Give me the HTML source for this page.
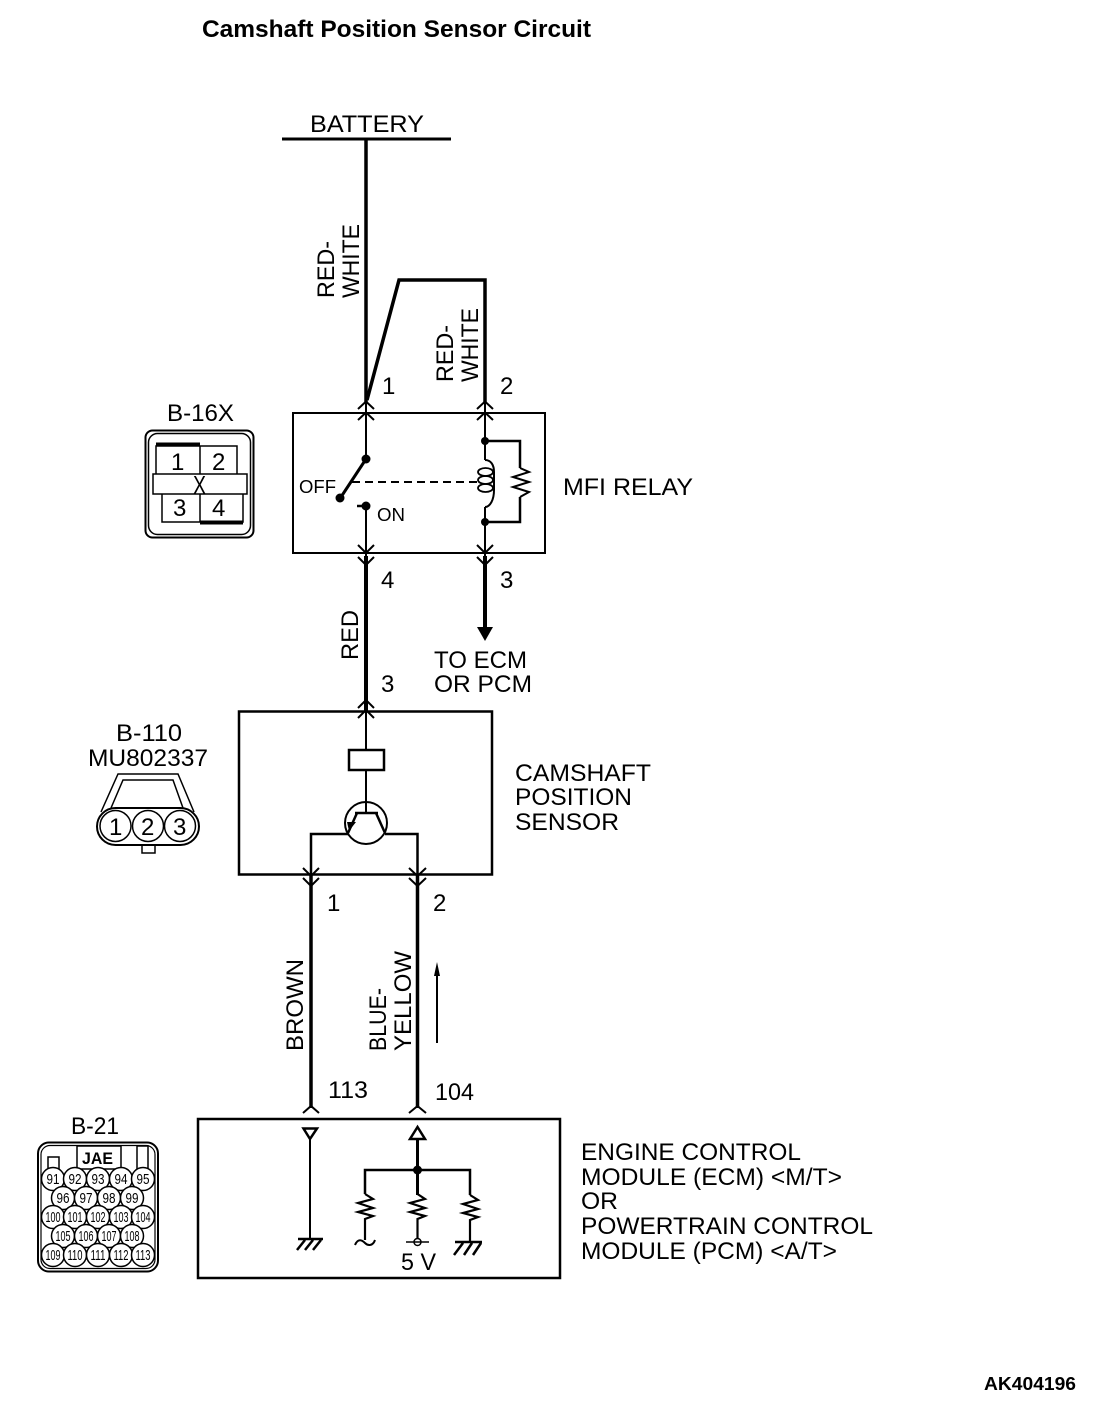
<!DOCTYPE html>
<html>
<head>
<meta charset="utf-8">
<title>Camshaft Position Sensor Circuit</title>
<style>
html,body{margin:0;padding:0;background:#fff;}
svg{display:block;}
text{font-family:"Liberation Sans",sans-serif;fill:#000;stroke:none;}
.l{font-size:24px;}
.n{font-size:24px;}
.c{font-size:15px;text-anchor:middle;}
</style>
</head>
<body>
<svg xmlns="http://www.w3.org/2000/svg" width="1120" height="1408" viewBox="0 0 1120 1408">
<rect width="1120" height="1408" fill="#fff"/>

<!-- Titles -->
<text x="202" y="37" font-size="24" font-weight="bold" textLength="389" lengthAdjust="spacingAndGlyphs">Camshaft Position Sensor Circuit</text>
<text x="984" y="1390" font-size="18" font-weight="bold" textLength="92" lengthAdjust="spacingAndGlyphs">AK404196</text>

<!-- Battery and upper wires -->
<text class="l" x="310" y="132" textLength="114" lengthAdjust="spacingAndGlyphs">BATTERY</text>
<g fill="none" stroke="#000" stroke-linecap="butt">
<path d="M282 139H451" stroke-width="3"/>
<path d="M366 139V404" stroke-width="3.500"/>
<path d="M367 400L399 280H485V404" stroke-width="3.500" stroke-linejoin="miter"/>
<path d="M366 556V711" stroke-width="4"/>
<path d="M485 556V630" stroke-width="4"/>
<path d="M311 874V1108M417.500 874V1108" stroke-width="3.500"/>
</g>
<path d="M477 627H493L485 641Z" fill="#000"/>

<!-- Relay box -->
<rect x="293" y="413" width="252" height="140" fill="none" stroke="#000" stroke-width="2"/>
<g fill="none" stroke="#000" stroke-width="2">
<path d="M366 404V459M366 506V556M485 404V460M485 507V556"/>
<path d="M358 409L366 401.500L374 409M358 420L366 412.500L374 420"/>
<path d="M477 409L485 401.500L493 409M477 420L485 412.500L493 420"/>
<path d="M358 545L366 553L374 545M358 557L366 565L374 557"/>
<path d="M477 545L485 553L493 545M477 557L485 565L493 557"/>
<path d="M366 459L341 497" stroke-width="3"/>
<path d="M357 506H366" stroke-width="2.500"/>
<path d="M352 482H477" stroke-dasharray="8 5"/>
<path d="M485 441H520V468M485 522H520V497" stroke-width="2.500"/>
<path d="M520 468L529 472L513 477L529 482L513 487L529 492L520 497" stroke-width="2"/>
<path d="M485 460C491 460 494 465 494 472V490C494 500 490 507 485 507" stroke-width="2"/>
<ellipse cx="485.500" cy="472" rx="7.500" ry="4" stroke-width="1.800"/>
<ellipse cx="485.500" cy="480" rx="7.500" ry="4" stroke-width="1.800"/>
<ellipse cx="485.500" cy="488" rx="7.500" ry="4" stroke-width="1.800"/>
</g>
<circle cx="366" cy="459" r="4.500" fill="#000"/>
<circle cx="340" cy="498" r="4.500" fill="#000"/>
<circle cx="366" cy="506" r="4.500" fill="#000"/>
<circle cx="485" cy="441" r="4" fill="#000"/>
<circle cx="485" cy="522" r="4" fill="#000"/>
<text x="299" y="493" font-size="18" textLength="37" lengthAdjust="spacingAndGlyphs">OFF</text>
<text x="377" y="521" font-size="18" textLength="28" lengthAdjust="spacingAndGlyphs">ON</text>
<text class="l" x="563" y="495" textLength="130" lengthAdjust="spacingAndGlyphs">MFI RELAY</text>

<!-- Wire labels -->
<text class="l" transform="translate(334,298) rotate(-90)" textLength="57" lengthAdjust="spacingAndGlyphs">RED-</text>
<text class="l" transform="translate(359,298) rotate(-90)" textLength="74" lengthAdjust="spacingAndGlyphs">WHITE</text>
<text class="l" transform="translate(453,382) rotate(-90)" textLength="57" lengthAdjust="spacingAndGlyphs">RED-</text>
<text class="l" transform="translate(478,382) rotate(-90)" textLength="74" lengthAdjust="spacingAndGlyphs">WHITE</text>
<text class="l" transform="translate(358,660) rotate(-90)" textLength="50" lengthAdjust="spacingAndGlyphs">RED</text>
<text class="l" transform="translate(303,1051) rotate(-90)" textLength="92" lengthAdjust="spacingAndGlyphs">BROWN</text>
<text class="l" transform="translate(386,1051) rotate(-90)" textLength="63" lengthAdjust="spacingAndGlyphs">BLUE-</text>
<text class="l" transform="translate(411,1051) rotate(-90)" textLength="100" lengthAdjust="spacingAndGlyphs">YELLOW</text>

<text class="n" x="382" y="394">1</text>
<text class="n" x="500" y="394">2</text>
<text class="n" x="381" y="588">4</text>
<text class="n" x="500" y="588">3</text>
<text class="n" x="381" y="692">3</text>
<text class="n" x="327" y="911">1</text>
<text class="n" x="433" y="911">2</text>
<text class="n" x="328" y="1098" textLength="40" lengthAdjust="spacingAndGlyphs">113</text>
<text class="n" x="435" y="1100" textLength="39" lengthAdjust="spacingAndGlyphs">104</text>

<text class="l" x="434" y="668" textLength="93" lengthAdjust="spacingAndGlyphs">TO ECM</text>
<text class="l" x="434" y="692" textLength="98" lengthAdjust="spacingAndGlyphs">OR PCM</text>

<!-- B-16X connector -->
<text class="l" x="167" y="421" textLength="67" lengthAdjust="spacingAndGlyphs">B-16X</text>
<g fill="none" stroke="#000">
<rect x="145.500" y="430.500" width="108" height="107" rx="7" stroke-width="2"/>
<rect x="148.500" y="433.500" width="102" height="101" rx="9" stroke-width="1.500"/>
<path d="M156 474V446H237V474M200 446V474" stroke-width="1.500"/>
<path d="M156 444.500H200M200 522.500H243" stroke-width="4"/>
<rect x="153" y="474" width="94" height="20" stroke-width="1.500"/>
<path d="M162 494V522H243V494M200 494V522" stroke-width="1.500"/>
</g>
<text class="n" x="171" y="470">1</text>
<text class="n" x="212" y="470">2</text>
<text class="n" x="173" y="516">3</text>
<text class="n" x="212" y="516">4</text>
<text x="193" y="494" font-size="26" textLength="13" lengthAdjust="spacingAndGlyphs">X</text>

<!-- Camshaft sensor box -->
<rect x="239" y="711.500" width="253" height="163" fill="none" stroke="#000" stroke-width="2.500"/>
<g fill="none" stroke="#000" stroke-width="2">
<path d="M366 711V750M366 770V813"/>
<path d="M358 708L366 700L374 708M358 718L366 710L374 718"/>
<rect x="349" y="750" width="35" height="20" stroke-width="2.500"/>
<circle cx="366" cy="823" r="21"/>
<path d="M355 813H378" stroke-width="2.500"/>
<path d="M357 813L348 833" stroke-width="2.500"/>
<path d="M376 813L385 833" stroke-width="2.500"/>
<path d="M348 834H311V874M385 834H417.500V874" stroke-width="2.500"/>
<path d="M303 868L311 876L319 868M303 878L311 886L319 878"/>
<path d="M409 868L417.500 876L426 868M409 878L417.500 886L426 878"/>
</g>
<path d="M356 822L349 831L347 822Z" fill="#000"/>
<text class="l" x="515" y="781" textLength="136" lengthAdjust="spacingAndGlyphs">CAMSHAFT</text>
<text class="l" x="515" y="805" textLength="117" lengthAdjust="spacingAndGlyphs">POSITION</text>
<text class="l" x="515" y="830" textLength="104" lengthAdjust="spacingAndGlyphs">SENSOR</text>

<!-- B-110 connector -->
<text class="l" x="116" y="741" textLength="66" lengthAdjust="spacingAndGlyphs">B-110</text>
<text class="l" x="88" y="766" textLength="120" lengthAdjust="spacingAndGlyphs">MU802337</text>
<g fill="none" stroke="#000" stroke-width="1.500">
<path d="M101 812L118 774H178L194 812"/>
<path d="M111 808L123 780H173L183 808"/>
<rect x="97" y="808" width="102" height="37" rx="18.500" stroke-width="2"/>
<circle cx="115.500" cy="826" r="15.500"/>
<circle cx="148" cy="826" r="15.500"/>
<circle cx="180" cy="826" r="15.500"/>
<rect x="142" y="845" width="13" height="8"/>
</g>
<text x="109" y="835" font-size="24">1</text>
<text x="141" y="835" font-size="24">2</text>
<text x="173" y="835" font-size="24">3</text>

<!-- Small direction arrow -->
<path d="M437 1043V970" fill="none" stroke="#000" stroke-width="2"/>
<path d="M437 962L440 976H434Z" fill="#000"/>

<!-- ECM box -->
<rect x="198" y="1119" width="362" height="159" fill="none" stroke="#000" stroke-width="2.500"/>
<g fill="none" stroke="#000" stroke-width="2">
<path d="M303 1113L311 1106L319 1113"/>
<path d="M409 1113L417.500 1106L426 1113"/>
<path d="M303.500 1128.500H317L310 1139Z" stroke-width="2.500"/>
<path d="M310 1139V1239"/>
<path d="M298 1239H323M297 1250L305 1240M305 1250L313 1240M313 1250L321 1240" stroke-width="2.500"/>
<path d="M417.500 1127L410 1139H425Z" stroke-width="2.500"/>
<path d="M417.500 1139V1195" stroke-width="3"/>
<path d="M365 1194V1170H470V1195" stroke-width="2.500"/>
<path d="M365 1194L373 1199L358 1203L373 1208L358 1212L373 1216L365 1219V1240" stroke-width="2.200"/>
<path d="M417.500 1194L425 1199L410 1203L425 1208L410 1212L425 1216L417.500 1219V1238" stroke-width="2.200"/>
<path d="M470 1195L478 1200L463 1204L478 1209L463 1213L478 1217L470 1220V1242" stroke-width="2.200"/>
<path d="M355 1245C358 1238 362 1240 365 1243C368 1246 373 1246 375 1240" stroke-width="2"/>
<circle cx="417.500" cy="1242" r="3.500" stroke-width="1.500"/>
<path d="M406 1242H429" stroke-width="1.500"/>
<path d="M455 1242H482M454 1255L463 1243M464 1255L472 1243M473 1255L481 1243" stroke-width="2.500"/>
</g>
<circle cx="417.500" cy="1170" r="4.500" fill="#000"/>
<text class="l" x="401" y="1270" textLength="35" lengthAdjust="spacingAndGlyphs">5 V</text>
<text class="l" x="581" y="1160" textLength="220" lengthAdjust="spacingAndGlyphs">ENGINE CONTROL</text>
<text class="l" x="581" y="1185" textLength="261" lengthAdjust="spacingAndGlyphs">MODULE (ECM) &lt;M/T&gt;</text>
<text class="l" x="581" y="1209" textLength="37" lengthAdjust="spacingAndGlyphs">OR</text>
<text class="l" x="581" y="1234" textLength="292" lengthAdjust="spacingAndGlyphs">POWERTRAIN CONTROL</text>
<text class="l" x="581" y="1259" textLength="256" lengthAdjust="spacingAndGlyphs">MODULE (PCM) &lt;A/T&gt;</text>

<!-- B-21 connector -->
<text class="l" x="71" y="1134" textLength="48" lengthAdjust="spacingAndGlyphs">B-21</text>
<g fill="none" stroke="#000" stroke-width="1.500">
<rect x="38" y="1142.500" width="120" height="129" rx="11" stroke-width="2"/>
<rect x="41" y="1145.500" width="114" height="123" rx="9" stroke-width="1.200"/>
<rect x="77" y="1146" width="44" height="23" fill="#fff"/>
<rect x="48" y="1157" width="11" height="14"/>
<rect x="137" y="1146" width="11" height="25"/>
<g fill="#fff">
<circle cx="53" cy="1179" r="11.500"/><circle cx="75" cy="1179" r="11.500"/><circle cx="98" cy="1179" r="11.500"/><circle cx="121" cy="1179" r="11.500"/><circle cx="143" cy="1179" r="11.500"/>
<circle cx="63" cy="1198" r="11.500"/><circle cx="86" cy="1198" r="11.500"/><circle cx="109" cy="1198" r="11.500"/><circle cx="132" cy="1198" r="11.500"/>
<circle cx="53" cy="1217" r="11.500"/><circle cx="75" cy="1217" r="11.500"/><circle cx="98" cy="1217" r="11.500"/><circle cx="121" cy="1217" r="11.500"/><circle cx="143" cy="1217" r="11.500"/>
<circle cx="63" cy="1236" r="11.500"/><circle cx="86" cy="1236" r="11.500"/><circle cx="109" cy="1236" r="11.500"/><circle cx="132" cy="1236" r="11.500"/>
<circle cx="53" cy="1255" r="11.500"/><circle cx="75" cy="1255" r="11.500"/><circle cx="98" cy="1255" r="11.500"/><circle cx="121" cy="1255" r="11.500"/><circle cx="143" cy="1255" r="11.500"/>
</g>
</g>
<text x="82" y="1164" font-size="17" font-weight="bold" textLength="31" lengthAdjust="spacingAndGlyphs">JAE</text>
<g>
<text class="c" x="53" y="1184" textLength="13" lengthAdjust="spacingAndGlyphs">91</text>
<text class="c" x="75" y="1184" textLength="13" lengthAdjust="spacingAndGlyphs">92</text>
<text class="c" x="98" y="1184" textLength="13" lengthAdjust="spacingAndGlyphs">93</text>
<text class="c" x="121" y="1184" textLength="13" lengthAdjust="spacingAndGlyphs">94</text>
<text class="c" x="143" y="1184" textLength="13" lengthAdjust="spacingAndGlyphs">95</text>
<text class="c" x="63" y="1203" textLength="13" lengthAdjust="spacingAndGlyphs">96</text>
<text class="c" x="86" y="1203" textLength="13" lengthAdjust="spacingAndGlyphs">97</text>
<text class="c" x="109" y="1203" textLength="13" lengthAdjust="spacingAndGlyphs">98</text>
<text class="c" x="132" y="1203" textLength="13" lengthAdjust="spacingAndGlyphs">99</text>
<text class="c" x="53" y="1222" textLength="15" lengthAdjust="spacingAndGlyphs">100</text>
<text class="c" x="75" y="1222" textLength="15" lengthAdjust="spacingAndGlyphs">101</text>
<text class="c" x="98" y="1222" textLength="15" lengthAdjust="spacingAndGlyphs">102</text>
<text class="c" x="121" y="1222" textLength="15" lengthAdjust="spacingAndGlyphs">103</text>
<text class="c" x="143" y="1222" textLength="15" lengthAdjust="spacingAndGlyphs">104</text>
<text class="c" x="63" y="1241" textLength="15" lengthAdjust="spacingAndGlyphs">105</text>
<text class="c" x="86" y="1241" textLength="15" lengthAdjust="spacingAndGlyphs">106</text>
<text class="c" x="109" y="1241" textLength="15" lengthAdjust="spacingAndGlyphs">107</text>
<text class="c" x="132" y="1241" textLength="15" lengthAdjust="spacingAndGlyphs">108</text>
<text class="c" x="53" y="1260" textLength="15" lengthAdjust="spacingAndGlyphs">109</text>
<text class="c" x="75" y="1260" textLength="15" lengthAdjust="spacingAndGlyphs">110</text>
<text class="c" x="98" y="1260" textLength="15" lengthAdjust="spacingAndGlyphs">111</text>
<text class="c" x="121" y="1260" textLength="15" lengthAdjust="spacingAndGlyphs">112</text>
<text class="c" x="143" y="1260" textLength="15" lengthAdjust="spacingAndGlyphs">113</text>
</g>
</svg>
</body>
</html>
